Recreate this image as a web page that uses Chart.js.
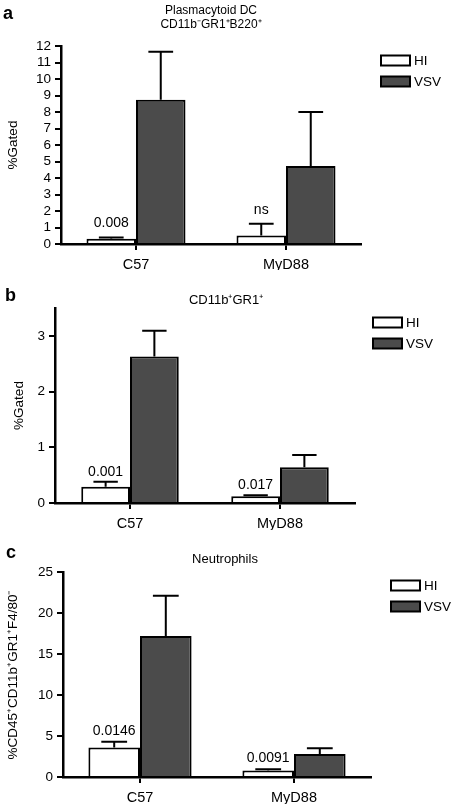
<!DOCTYPE html>
<html>
<head>
<meta charset="utf-8">
<script src="https://cdn.jsdelivr.net/npm/chart.js@4.4.1/dist/chart.umd.min.js"></script>
<style>
  body { margin: 0; background: #fff; }
  #wrap { position: relative; width: 458px; height: 804px; }
  canvas { position: absolute; left: 0; }
</style>
</head>
<body>
<div id="wrap">
  <canvas id="pdc" width="458" height="270" style="top:0"></canvas>
  <canvas id="gr1" width="458" height="260" style="top:270px"></canvas>
  <canvas id="neu" width="458" height="274" style="top:530px"></canvas>
</div>
<script>
const FONT = "'Liberation Sans', Arial, Helvetica, sans-serif";
const DARK = "#4b4b4b";

const CATEGORIES = ["C57", "MyD88"];
const SERIES = ["HI", "VSV"];

// a - plasmacytoid DC
const PDC_HI = [0.32, 0.52];
const PDC_HI_ERR = [0.4, 1.22];
const PDC_VSV = [8.75, 4.73];
const PDC_VSV_ERR = [11.65, 8.0];
const PDC_P = ["0.008", "ns"];

// b - CD11b+GR1+
const GR1_HI = [0.29, 0.12];
const GR1_HI_ERR = [0.38, 0.14];
const GR1_VSV = [2.63, 0.64];
const GR1_VSV_ERR = [3.09, 0.86];
const GR1_P = ["0.001", "0.017"];

// c - neutrophils
const NEU_HI = [3.6, 0.8];
const NEU_HI_ERR = [4.3, 0.95];
const NEU_VSV = [17.2, 2.8];
const NEU_VSV_ERR = [22.1, 3.5];
const NEU_P = ["0.0146", "0.0091"];

// error bars (upper half only) + p value over the HI bar
const errorBars = {
  id: "errorBars",
  afterDatasetsDraw(chart, args, opts) {
    const ctx = chart.ctx;
    const y = chart.scales.y;
    ctx.save();
    ctx.strokeStyle = "#000";
    ctx.lineWidth = 2;
    chart.data.datasets.forEach((ds, i) => {
      chart.getDatasetMeta(i).data.forEach((bar, j) => {
        const top = y.getPixelForValue(ds.errTop[j]);
        const half = bar.width * 0.25;
        ctx.beginPath();
        ctx.moveTo(bar.x, bar.y);
        ctx.lineTo(bar.x, top);
        ctx.moveTo(bar.x - half, top);
        ctx.lineTo(bar.x + half, top);
        ctx.stroke();
      });
    });
    // p values
    const hi = chart.getDatasetMeta(0).data;
    ctx.fillStyle = "#000";
    ctx.font = "14px " + FONT;
    ctx.textAlign = "center";
    ctx.textBaseline = "alphabetic";
    opts.pvalues.forEach((p, j) => {
      const top = y.getPixelForValue(chart.data.datasets[0].errTop[j]);
      ctx.fillText(p, hi[j].x, top - opts.pGap);
    });
    ctx.restore();
  },
};

// panel letter, title and legend
const panelText = {
  id: "panelText",
  afterDraw(chart, args, o) {
    const ctx = chart.ctx;
    ctx.save();
    ctx.fillStyle = "#000";
    ctx.textBaseline = "middle";
    ctx.textAlign = "left";
    ctx.font = "bold 18px " + FONT;
    ctx.fillText(o.letter, o.letterX, o.letterY);

    ctx.textAlign = "center";
    ctx.font = o.titleSize + "px " + FONT;
    o.title.forEach((t, k) => ctx.fillText(t, o.titleX, o.titleY + k * 14));

    ctx.textAlign = "left";
    ctx.font = "13.5px " + FONT;
    chart.data.datasets.forEach((ds, i) => {
      const by = o.legY + i * 21;
      ctx.fillStyle = ds.backgroundColor;
      ctx.fillRect(o.legX, by, 29, 10);
      ctx.strokeStyle = "#000";
      ctx.lineWidth = 2;
      ctx.strokeRect(o.legX, by, 29, 10);
      ctx.fillStyle = "#000";
      ctx.fillText(ds.label, o.legX + 33, by + 5.5);
    });
    ctx.restore();
  },
};

function makeChart(id, o) {
  const axisFont = { family: FONT, size: 13.5 };
  return new Chart(document.getElementById(id), {
    type: "bar",
    data: {
      labels: CATEGORIES,
      datasets: [
        { label: SERIES[0], data: o.hi, errTop: o.hiErr, backgroundColor: "#ffffff", borderColor: "#000", borderWidth: 2 },
        { label: SERIES[1], data: o.vsv, errTop: o.vsvErr, backgroundColor: DARK, borderColor: "#000", borderWidth: 2 },
      ],
    },
    options: {
      responsive: false,
      animation: false,
      events: [],
      layout: { padding: { top: o.top, right: o.right, left: 0, bottom: 0 } },
      datasets: { bar: { categoryPercentage: o.groupPct, barPercentage: 1 } },
      plugins: {
        legend: { display: false },
        tooltip: { enabled: false },
        errorBars: { pvalues: o.pvalues, pGap: o.pGap },
        panelText: o.text,
      },
      scales: {
        x: {
          grid: { offset: false, drawOnChartArea: false, tickLength: 6, color: "#000", lineWidth: 2 },
          border: { color: "#000", width: 2.5 },
          ticks: { color: "#000", font: { family: FONT, size: 14.5 }, padding: 6 },
          afterFit: (s) => { s.height = o.xAxisH; },
        },
        y: {
          min: 0,
          max: o.max,
          grid: { drawOnChartArea: false, tickLength: 6, color: "#000", lineWidth: 2 },
          border: { color: "#000", width: 2.5 },
          ticks: { stepSize: o.step, includeBounds: false, autoSkip: false, color: "#000", font: axisFont, padding: 4 },
          title: { display: true, text: o.yTitle, color: "#000", font: axisFont, padding: { top: o.titlePad, bottom: 0 } },
          afterFit: (s) => { s.width = o.yAxisW; },
        },
      },
    },
    plugins: [errorBars, panelText],
  });
}

makeChart("pdc", {
  hi: PDC_HI, hiErr: PDC_HI_ERR, vsv: PDC_VSV, vsvErr: PDC_VSV_ERR, pvalues: PDC_P, pGap: 10,
  max: 12, step: 1, yTitle: "%Gated", titlePad: 5,
  top: 46, right: 97, yAxisW: 61, xAxisH: 26, groupPct: 0.66,
  text: { letter: "a", letterX: 3, letterY: 14, title: ["Plasmacytoid DC", "CD11b\u207BGR1\u207AB220\u207A"], titleSize: 12, titleX: 211, titleY: 11,
          legX: 381, legY: 55.5 },
});

makeChart("gr1", {
  hi: GR1_HI, hiErr: GR1_HI_ERR, vsv: GR1_VSV, vsvErr: GR1_VSV_ERR, pvalues: GR1_P, pGap: 6,
  max: 3.5, step: 1, yTitle: "%Gated", titlePad: 11,
  top: 38, right: 103, yAxisW: 55, xAxisH: 27, groupPct: 0.65,
  text: { letter: "b", letterX: 5, letterY: 26, title: ["CD11b\u207AGR1\u207A"], titleSize: 13, titleX: 226, titleY: 30.5,
          legX: 373, legY: 47.5 },
});

makeChart("neu", {
  hi: NEU_HI, hiErr: NEU_HI_ERR, vsv: NEU_VSV, vsvErr: NEU_VSV_ERR, pvalues: NEU_P, pGap: 7,
  max: 25, step: 5, yTitle: "%CD45\u207ACD11b\u207AGR1\u207AF4/80\u207B", titlePad: 5,
  top: 42, right: 87, yAxisW: 63, xAxisH: 27, groupPct: 0.67,
  text: { letter: "c", letterX: 6, letterY: 23, title: ["Neutrophils"], titleSize: 13, titleX: 225, titleY: 29.5,
          legX: 391, legY: 50.5 },
});
</script>
</body>
</html>
